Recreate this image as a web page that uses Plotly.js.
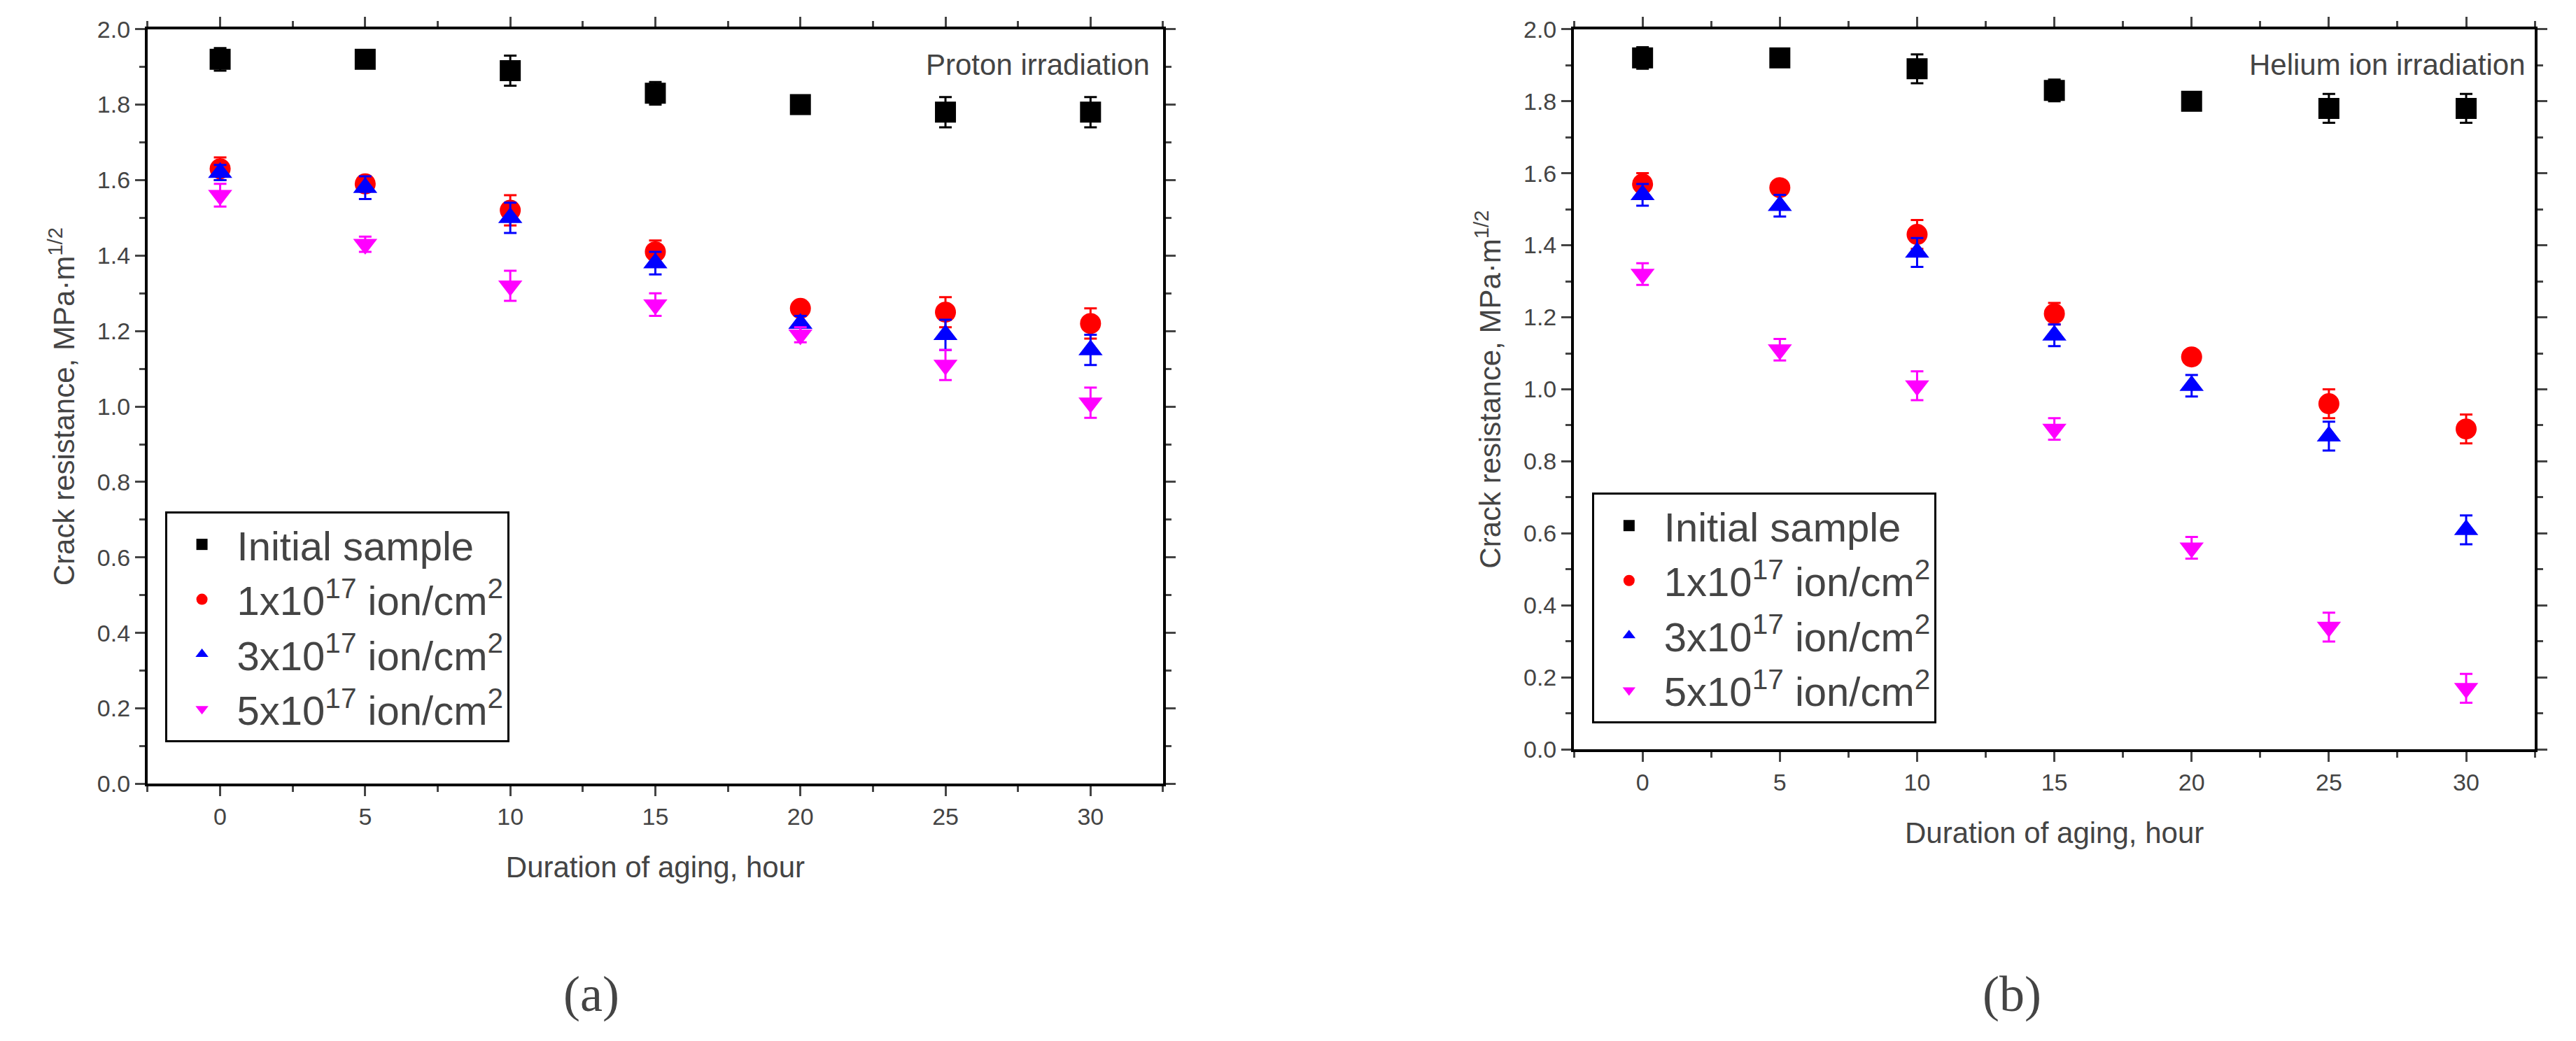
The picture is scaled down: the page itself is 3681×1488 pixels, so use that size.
<!DOCTYPE html>
<html>
<head>
<meta charset="utf-8">
<script src="https://cdn.plot.ly/plotly-3.0.1.min.js"></script>
<style>body{margin:0;background:#fff}#chart{width:3681px;height:1488px}</style>
</head>
<body>
<div id="chart"></div>
<script>
// aging time, hours
const hours = [0, 5, 10, 15, 20, 25, 30];

// (a) proton irradiation
const protonInitial = [1.92, 1.92, 1.89, 1.83, 1.80, 1.78, 1.78];
const protonInitialErr = [0.03, 0.01, 0.04, 0.03, 0.01, 0.04, 0.04];
const proton1 = [1.63, 1.59, 1.52, 1.41, 1.26, 1.25, 1.22];
const proton1Err = [0.03, 0.01, 0.04, 0.03, 0.01, 0.04, 0.04];
const proton3 = [1.62, 1.58, 1.50, 1.38, 1.22, 1.19, 1.15];
const proton3Err = [0.02, 0.03, 0.04, 0.03, 0.02, 0.04, 0.04];
const proton5 = [1.56, 1.43, 1.32, 1.27, 1.19, 1.11, 1.01];
const proton5Err = [0.03, 0.02, 0.04, 0.03, 0.02, 0.04, 0.04];

// (b) helium ion irradiation
const heliumInitial = [1.92, 1.92, 1.89, 1.83, 1.80, 1.78, 1.78];
const heliumInitialErr = [0.03, 0.01, 0.04, 0.03, 0.01, 0.04, 0.04];
const helium1 = [1.57, 1.56, 1.43, 1.21, 1.09, 0.96, 0.89];
const helium1Err = [0.03, 0.01, 0.04, 0.03, 0.01, 0.04, 0.04];
const helium3 = [1.54, 1.51, 1.38, 1.15, 1.01, 0.87, 0.61];
const helium3Err = [0.03, 0.03, 0.04, 0.03, 0.03, 0.04, 0.04];
const helium5 = [1.32, 1.11, 1.01, 0.89, 0.56, 0.34, 0.17];
const helium5Err = [0.03, 0.03, 0.04, 0.03, 0.03, 0.04, 0.04];

const seriesNames = ['Initial sample', '1x10<sup>17</sup> ion/cm<sup>2</sup>',
    '3x10<sup>17</sup> ion/cm<sup>2</sup>', '5x10<sup>17</sup> ion/cm<sup>2</sup>'];
const colors = ['#000000', '#ff0000', '#0000ff', '#ff00ff'];
const symbols = ['square', 'circle', 'triangle-up', 'triangle-down'];

const FONT = '"Liberation Sans Narrow", "Liberation Sans", Arial, sans-serif';

function makeTraces(sets, xa, ya, legendId) {
    return sets.map((s, i) => ({
        x: hours,
        y: s[0],
        error_y: { type: 'data', array: s[1], visible: true, color: colors[i], thickness: 3, width: 9 },
        type: 'scatter',
        mode: 'markers',
        name: seriesNames[i],
        marker: { color: colors[i], symbol: symbols[i], size: 30 },
        xaxis: xa,
        yaxis: ya,
        legend: legendId
    }));
}

const traces = [
    ...makeTraces([[protonInitial, protonInitialErr], [proton1, proton1Err], [proton3, proton3Err], [proton5, proton5Err]], 'x', 'y', 'legend'),
    ...makeTraces([[heliumInitial, heliumInitialErr], [helium1, helium1Err], [helium3, helium3Err], [helium5, helium5Err]], 'x2', 'y2', 'legend2')
];

function xAxis(domain, anchor) {
    return {
        domain: domain, anchor: anchor, range: [-2.5, 32.5],
        tickvals: hours, ticks: 'outside', ticklen: 14, tickwidth: 3,
        minor: { dtick: 2.5, ticks: 'outside', ticklen: 8, tickwidth: 3 },
        showline: true, linewidth: 4, linecolor: '#000', mirror: 'ticks',
        showgrid: false, zeroline: false,
        tickfont: { size: 34, family: FONT },
        title: { text: 'Duration of aging, hour', font: { size: 42, family: FONT }, standoff: 40 }
    };
}
function yAxis(domain, anchor) {
    return {
        domain: domain, anchor: anchor, range: [0, 2.0],
        dtick: 0.2, tickformat: '.1f', ticks: 'outside', ticklen: 14, tickwidth: 3,
        minor: { dtick: 0.1, ticks: 'outside', ticklen: 8, tickwidth: 3 },
        showline: true, linewidth: 4, linecolor: '#000', mirror: 'ticks',
        showgrid: false, zeroline: false,
        tickfont: { size: 34, family: FONT },
        title: { text: 'Crack resistance, MPa·m<sup>1/2</sup>', font: { size: 42, family: FONT }, standoff: 20 }
    };
}

const legendStyle = {
    bgcolor: '#fff', bordercolor: '#000', borderwidth: 3,
    font: { size: 58, family: FONT }, itemwidth: 90,
    xanchor: 'left', yanchor: 'bottom', tracegroupgap: 0
};

const layout = {
    width: 3681, height: 1488,
    paper_bgcolor: '#fff', plot_bgcolor: '#fff',
    margin: { l: 0, r: 0, t: 0, b: 0 },
    showlegend: true,
    xaxis: xAxis([0.0573, 0.4515], 'y'),
    yaxis: yAxis([0.247, 0.972], 'x'),
    xaxis2: xAxis([0.611, 0.984], 'y2'),
    yaxis2: yAxis([0.280, 0.972], 'x2'),
    legend: Object.assign({ x: 0.064, y: 0.287 }, legendStyle),
    legend2: Object.assign({ x: 0.618, y: 0.305 }, legendStyle),
    annotations: [
        { text: 'Proton irradiation', xref: 'paper', yref: 'paper', x: 0.447, y: 0.955,
          xanchor: 'right', yanchor: 'top', showarrow: false, font: { size: 42, family: FONT } },
        { text: 'Helium ion irradiation', xref: 'paper', yref: 'paper', x: 0.981, y: 0.955,
          xanchor: 'right', yanchor: 'top', showarrow: false, font: { size: 42, family: FONT } },
        { text: '(a)', xref: 'paper', yref: 'paper', x: 0.2295, y: 0.045,
          xanchor: 'center', yanchor: 'middle', showarrow: false,
          font: { size: 72, family: '"Liberation Serif", "Times New Roman", serif' } },
        { text: '(b)', xref: 'paper', yref: 'paper', x: 0.781, y: 0.045,
          xanchor: 'center', yanchor: 'middle', showarrow: false,
          font: { size: 72, family: '"Liberation Serif", "Times New Roman", serif' } }
    ]
};

Plotly.newPlot('chart', traces, layout, { displayModeBar: false });
</script>
</body>
</html>
